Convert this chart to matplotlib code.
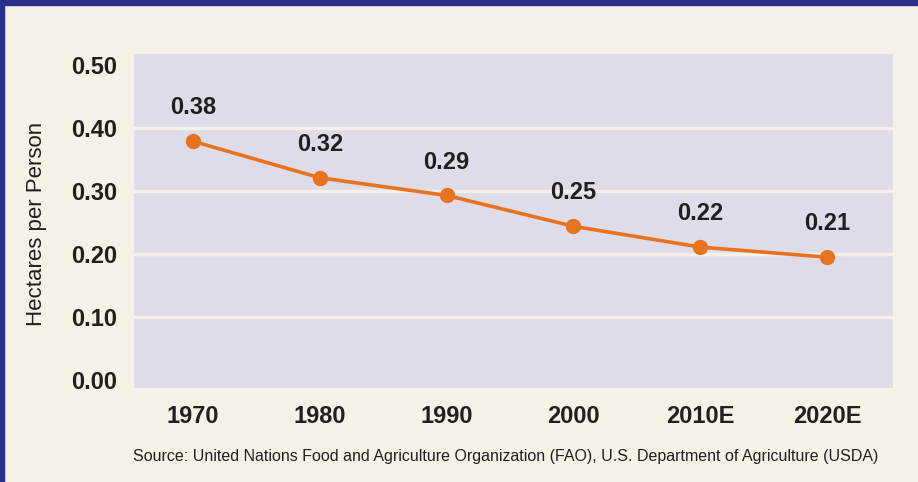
import matplotlib.pyplot as plt
from matplotlib.patches import Rectangle

years = ['1970', '1980', '1990', '2000', '2010E', '2020E']
hectares = [0.379, 0.321, 0.293, 0.244, 0.211, 0.195]
point_labels = ['0.38', '0.32', '0.29', '0.25', '0.22', '0.21']
y_ticks = [0.0, 0.1, 0.2, 0.3, 0.4, 0.5]

BG = '#f5f1e6'
PLOT_BG = '#dedce9'
ORANGE = '#e8731f'
BORDER = '#2b2f8c'
TEXT = '#231f20'

plt.rcParams['font.family'] = ['Liberation Sans', 'DejaVu Sans']

W, H = 918, 482
fig = plt.figure(figsize=(W / 100, H / 100), dpi=100, facecolor=BG)

# blue frame on the left and top edge
fig.patches.append(Rectangle((0, 0), 4 / W, 1, transform=fig.transFigure,
                             color=BORDER, zorder=10))
fig.patches.append(Rectangle((0, 1 - 5 / H), 1, 5 / H, transform=fig.transFigure,
                             color=BORDER, zorder=10))

ax = fig.add_axes([134 / W, (H - 388) / H, 759 / W, 334 / H])
ax.set_facecolor(PLOT_BG)
for s in ax.spines.values():
    s.set_visible(False)

x = list(range(len(years)))
ax.plot(x, hectares, color=ORANGE, lw=2.6, marker='o', ms=10, zorder=3)
for xi, v, lab in zip(x, hectares, point_labels):
    ax.annotate(lab, (xi, v), xytext=(0, 24), textcoords='offset points',
                ha='center', va='center', fontsize=17, fontweight='bold',
                color=TEXT)

ax.set_xlim(-0.465, 5.52)
ax.set_ylim(-0.0127, 0.5175)
ax.set_xticks(x)
ax.set_xticklabels(years, fontsize=17, fontweight='bold', color=TEXT)
ax.set_yticks(y_ticks)
ax.set_yticklabels([f'{t:.2f}' for t in y_ticks], fontsize=17,
                   fontweight='bold', color=TEXT)
ax.tick_params(axis='both', length=0)
ax.tick_params(axis='y', pad=12)
ax.tick_params(axis='x', pad=12)

for t in y_ticks[1:-1]:
    ax.axhline(t, color=BG, lw=2.5, zorder=1)

fig.text(37 / W, 1 - 224 / H, 'Hectares per Person', rotation=90,
         ha='center', va='center', fontsize=16, color=TEXT)
fig.text(506 / W, 1 - 457 / H,
         'Source: United Nations Food and Agriculture Organization (FAO), '
         'U.S. Department of Agriculture (USDA)',
         ha='center', va='center', fontsize=11.5, color=TEXT)

fig.savefig('out.png', dpi=100, facecolor=BG)
